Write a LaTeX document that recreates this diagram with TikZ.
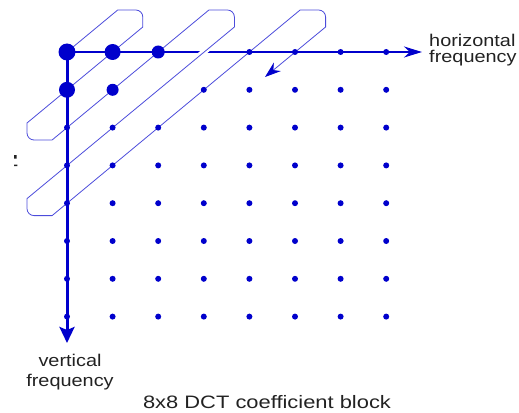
\documentclass[tikz,border=0pt]{standalone}
\usepackage{fontspec}
\setmainfont{Liberation Sans}
\usepackage{tikz}
\usetikzlibrary{arrows.meta}
\definecolor{dctBlue}{HTML}{0000CC}
\definecolor{labelGray}{HTML}{222222}

\begin{document}
\begin{tikzpicture}[x=1pt,y=-1pt,
  coef/.style={circle,fill=dctBlue,inner sep=0pt,minimum size=#1},
  coef/.default=6pt,
  axis/.style={draw=dctBlue,line width=#1},
  scan/.style={draw=dctBlue!70,line width=0.8pt},
  lbl/.style={text=labelGray,inner sep=0pt,xscale=1.17,font=\fontsize{17}{#1}\selectfont},
  lbl/.default=20]
\useasboundingbox (0,0) rectangle (519,412);
\def\dx{45.6}
\def\dy{37.8}
\foreach \c in {0,...,7}
  \foreach \r in {0,...,7}
    \coordinate (g\c\r) at (67+\c*\dx,52+\r*\dy);
\coordinate (hTip) at (422,52);
\coordinate (vTip) at (67,343);
\draw[axis=2pt,-{Stealth[length=18pt,width=11pt]}] (g00) -- (hTip);
\draw[axis=3pt,-{Stealth[length=16pt,width=15pt,inset=3pt]}] (g00) -- (vTip);
\draw[white,line width=6pt] (197.8,57) -- (209.8,47);
\draw[scan,-{Stealth[length=16pt,width=11pt,color=dctBlue]}] (g00) -- (117.7,10)
  [rounded corners=7pt] -- (142.8,10) [sharp corners] -- (142.8,27) -- (27,123)
  [rounded corners=7pt] -- (27,140) [sharp corners] -- (52.1,140) -- (208.9,10)
  [rounded corners=7pt] -- (234.4,10) [sharp corners] -- (234.4,27) -- (27,198.6)
  [rounded corners=7pt] -- (27,215.6) [sharp corners] -- (52.1,215.6) -- (300.1,10)
  [rounded corners=7pt] -- (325.6,10) [sharp corners] -- (325.6,27) -- (265,77);
\foreach \c in {0,...,7}
  \foreach \r in {0,...,7}{
    \pgfmathtruncatemacro\gone{(\c==3 && \r==0) || (\c==2 && \r==1)}
    \ifnum\gone=0
      \node[coef] (c\c\r) at (g\c\r) {};
    \fi
  }
\node[coef=17pt] (dc) at (g00) {};
\node[coef=16pt] (ac10) at (g10) {};
\node[coef=16pt] (ac01) at (g01) {};
\node[coef=13pt] (ac20) at (g20) {};
\node[coef=12pt] (ac11) at (g11) {};
\fill[labelGray] (14,155) rectangle (16.5,158.5) (14,164.5) rectangle (17.3,166);
\node[lbl=16.5,anchor=north west,align=left] (hLabel) at (429,33.5) {horizontal\\frequency};
\node[lbl,anchor=north,align=center] (vLabel) at (70,353.6) {vertical\\frequency};
\node[lbl,anchor=base,xscale=1.04,font=\fontsize{18}{20}\selectfont] (title) at (267,408) {8x8 DCT coefficient block};
\end{tikzpicture}
\end{document}
